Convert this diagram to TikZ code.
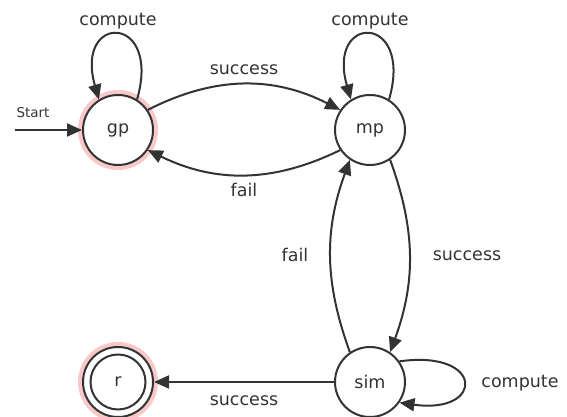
\documentclass[tikz,border=0pt]{standalone}
\usepackage{fontspec}
\setmainfont{DejaVu Sans}
\usetikzlibrary{arrows.meta}
\definecolor{ink}{HTML}{333333}
\definecolor{glowc}{RGB}{250,200,200}
\begin{document}
\begin{tikzpicture}[x=1pt,y=1pt,
  every node/.style={text=ink},
  lbl/.style={font=\fontsize{17.5}{20}\selectfont},
  state/.style={circle, draw=ink, line width=2pt, fill=white, minimum size=70pt, inner sep=0pt, font=\fontsize{17.5}{20}\selectfont},
  glow/.style={preaction={draw=glowc, line width=10pt}},
  conn/.style={draw=ink, line width=2pt, -{Triangle[length=15pt,width=13pt]}}
]
\useasboundingbox (0,0) rectangle (567,417);
\node[state, glow] (gp) at (118,287) {gp};
\node[state] (mp) at (370,287) {mp};
\node[state] (sim) at (370,35) {sim};
\node[state, glow] (r) at (118,35) {r};
\draw[draw=ink, line width=2pt] (r.center) circle (27.5pt);

\coordinate (start) at (15,287);
\node[font=\fontsize{13.5}{16}\selectfont] (startlbl) at (33,304) {Start};
\draw[conn] (start) -- (gp.west);

% loops
\draw[conn] (gp.58) .. controls +(74:90) and +(106:90) .. (gp.122);
\node[lbl] (cgp) at (118,396) {compute};
\draw[conn] (mp.58) .. controls +(74:90) and +(106:90) .. (mp.122);
\node[lbl] (cmp) at (370,396) {compute};
\draw[conn] (sim.35) .. controls +(8:86) and +(-8:86) .. (sim.-35);
\node[lbl] (csim) at (520,34) {compute};

% edges
\draw[conn] (gp.34) to[out=27,in=153] (mp.146);
\node[lbl] (s1) at (244,347) {success};
\draw[conn] (mp.214) to[out=206,in=-26] (gp.-34);
\node[lbl] (f1) at (244,227) {fail};
\draw[conn] (mp.-56) to[out=-70,in=70] (sim.56);
\node[lbl] (s2) at (467,161) {success};
\draw[conn] (sim.124) to[out=110,in=-110] (mp.-124);
\node[lbl] (f2) at (295,162) {fail};
\draw[conn] (sim.west) -- (r.east);
\node[lbl] (s3) at (244,16) {success};
\end{tikzpicture}
\end{document}
